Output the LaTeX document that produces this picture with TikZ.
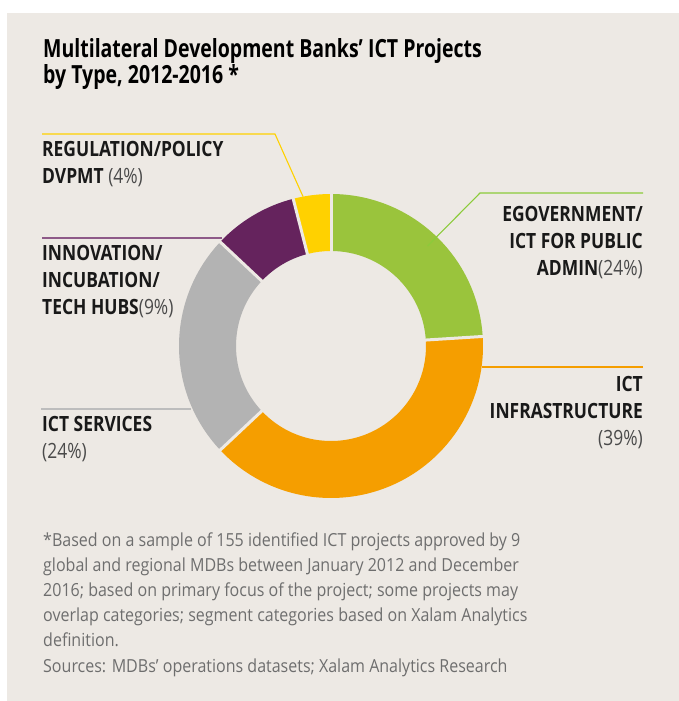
\documentclass[tikz,border=0pt]{standalone}
\usepackage{fontspec}
\setmainfont{Open Sans}
\newfontfamily\titlef[FakeStretch=0.78]{Open Sans}
\newfontfamily\labf[FakeStretch=0.83]{Open Sans}
\newfontfamily\notef[FakeStretch=0.89]{Open Sans}
\definecolor{bgc}{HTML}{EDE9E4}
\definecolor{cgreen}{HTML}{9AC43C}
\definecolor{corange}{HTML}{F59E00}
\definecolor{cgray}{HTML}{B3B3B3}
\definecolor{cpurple}{HTML}{65235D}
\definecolor{cyellow}{HTML}{FFD100}
\definecolor{lgreen}{HTML}{8CCB3A}
\definecolor{lpurple}{HTML}{8E5A88}
\definecolor{lgray}{HTML}{BDBDBD}
\definecolor{pctc}{HTML}{4A4A4A}
\definecolor{notec}{HTML}{6E6E6E}
\tikzset{
  lead/.style={line width=1.1pt},
  labtext/.style={inner sep=0pt, align=left, font=\labf\fontsize{21}{27}\selectfont\bfseries, text=black!90},
  labtextr/.style={labtext, align=right},
  sep/.style={draw=bgc, line width=3pt}
}
\newcommand{\pct}[1]{{\mdseries\color{pctc}#1}}
\begin{document}
\begin{tikzpicture}[x=1pt,y=-1pt]
\useasboundingbox (0,0) rectangle (679,701);
\fill[white] (0,0) rectangle (679,701);
\fill[bgc] (7,13) rectangle (679,701);
% title (base anchor = last line baseline)
\node[anchor=base west, inner sep=0pt, align=left, font=\titlef\fontsize{25}{24}\selectfont\bfseries] (title) at (43,84)
  {Multilateral Development Banks’ ICT Projects\\by Type, 2012-2016 *};
% donut
\begin{scope}[shift={(331,346)}, yscale=-1]
  \foreach \a/\b/\c in {90/3.6/cgreen, 3.6/-136.8/corange, -136.8/-223.2/cgray, 136.8/104.4/cpurple, 104.4/90/cyellow}
    \fill[\c] (\a:152) arc[start angle=\a, end angle=\b, radius=152] -- (\b:95) arc[start angle=\b, end angle=\a, radius=95] -- cycle;
  \foreach \t in {90,3.6,-136.8,136.8,104.4}
    \draw[sep] (\t:92) -- (\t:155);
  \coordinate (yel) at (100.6:152);
  \coordinate (pur) at (136.0:152);
  \coordinate (gry) at (204:153);
  \coordinate (grn) at (46:139);
  \coordinate (org) at (-7.9:152);
\end{scope}
% leaders
\coordinate (yA) at (42,134);
\coordinate (yB) at (275,134);
\draw[lead, cyellow] (yA) -- (yB) -- (yel);
\coordinate (pA) at (42,238);
\draw[lead, lpurple] (pA) -- (pA -| pur);
\coordinate (gA) at (41,409);
\draw[lead, lgray] (gA) -- (gA -| gry);
\coordinate (gnA) at (643,193);
\coordinate (gnB) at (480,193);
\draw[lead, lgreen] (gnA) -- (gnB) -- (grn);
\coordinate (oA) at (643,367);
\draw[lead, corange] (oA) -- (oA -| org);
% labels (base anchor = last line baseline)
\node[labtext, anchor=base west] (lreg) at (42,183) {REGULATION/POLICY\\DVPMT \pct{(4\%)}};
\node[labtext, anchor=base west] (linn) at (42,314) {INNOVATION/\\INCUBATION/\\TECH HUBS\pct{(9\%)}};
\node[labtext, anchor=base west] (lsrv) at (42,458) {ICT SERVICES\\\pct{(24\%)}};
\node[labtextr, anchor=base east] (lgov) at (643,275) {EGOVERNMENT/\\ICT FOR PUBLIC\\ADMIN\pct{(24\%)}};
\node[labtextr, anchor=base east] (linf) at (643,445) {ICT\\INFRASTRUCTURE\\\pct{(39\%)}};
% footnote
\node[anchor=base west, inner sep=0pt, align=left, text=notec, font=\notef\fontsize{18}{25.2}\selectfont] (note) at (43,672)
  {*Based on a sample of 155 identified ICT projects approved by 9\\
   global and regional MDBs between January 2012 and December\\
   2016; based on primary focus of the project; some projects may\\
   overlap categories; segment categories based on Xalam Analytics\\
   definition.\\
   Sources: MDBs’ operations datasets; Xalam Analytics Research};
\end{tikzpicture}
\end{document}
